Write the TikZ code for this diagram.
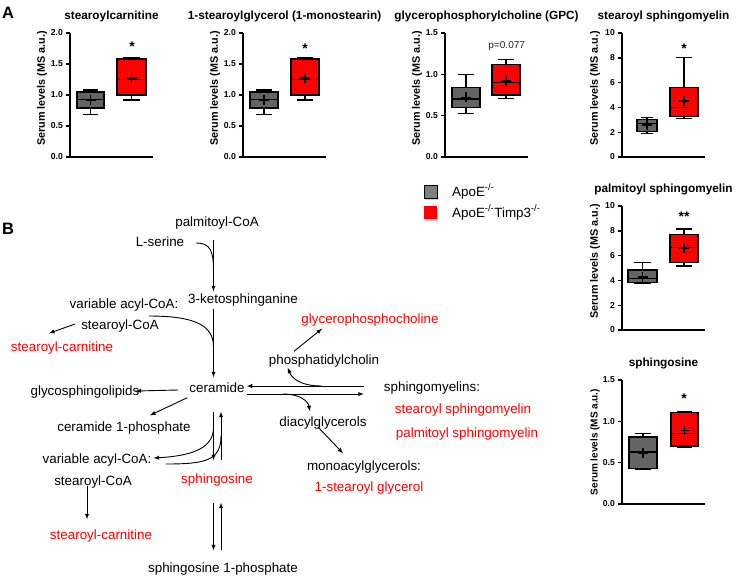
\documentclass[tikz,border=0pt]{standalone}
\usepackage{fontspec}
\setmainfont{Liberation Sans}
\usetikzlibrary{calc,shadows}
\definecolor{boxgray}{RGB}{100,100,100}
\definecolor{leggray}{RGB}{128,128,128}
\tikzset{
	metab/.style={font=\fontsize{13.4}{15}\selectfont, inner sep=2pt, text height=10pt, text depth=3pt},
	hit/.style={metab, text=red},
	line/.style={line width=0.9pt},
	arr/.style={line, -latex},
	bxline/.style={line width=1.3pt},
	axline/.style={line width=1.4pt},
	tick/.style={font=\fontsize{8.6}{9}\selectfont\bfseries, anchor=east, inner sep=0pt},
	ctitle/.style={font=\fontsize{11.8}{13}\selectfont\bfseries},
	ylab/.style={font=\fontsize{10.8}{12}\selectfont\bfseries, rotate=90},
	sig/.style={font=\fontsize{14}{15}\selectfont\bfseries, anchor=north, inner sep=0pt},
	panel/.style={font=\fontsize{16.5}{18}\selectfont\bfseries},
	legbox/.style={minimum size=13pt, inner sep=0pt, drop shadow={shadow xshift=1pt, shadow yshift=-1.5pt, opacity=0.35}},
	legtxt/.style={font=\fontsize{13.4}{15}\selectfont, anchor=west, inner sep=0pt}
}
% left, right, min, q1, median, q3, max, mean, fill
\newcommand{\bplot}[9]{%
	\pgfmathsetmacro{\bmid}{(#1+#2)/2}
	\pgfmathsetmacro{\bcap}{0.28*(#2-#1)}
	\draw[bxline] (\bmid,#3) -- (\bmid,#4) (\bmid,#6) -- (\bmid,#7);
	\draw[bxline] (\bmid-\bcap,#3) -- (\bmid+\bcap,#3) (\bmid-\bcap,#7) -- (\bmid+\bcap,#7);
	\draw[bxline, fill=#9] (#1,#4) rectangle (#2,#6);
	\draw[bxline] (#1,#5) -- (#2,#5);
	\draw[line width=1.8pt] (\bmid-5,#8) -- (\bmid+5,#8) ([yshift=-5pt]\bmid,#8) -- ([yshift=5pt]\bmid,#8);
}
\begin{document}
\begin{tikzpicture}[x=1pt,y=-1pt]
	\useasboundingbox (0,0) rectangle (743,578);
	\node[panel] (pa) at (8,13) {A};
	\node[panel] (pb) at (8,229) {B};

	\begin{scope}[shift={(70,157)}, y={(0pt,62pt)}]
		\draw[axline] (0,2) -- (0,0) -- (83,0);
		\foreach \v in {0.0,0.5,1.0,1.5,2.0} {
			\draw[axline] (-4,\v) -- (0,\v);
			\node[tick] at (-7,\v) {\v};
		}
		\node[ctitle] (t1) at ([yshift=16.5pt]41.5,2) {stearoylcarnitine};
		\node[ylab] (y1) at ([yshift=6.5pt]-28,1) {Serum levels (MS a.u.)};
		\bplot{7}{34}{0.69}{0.79}{0.93}{1.05}{1.08}{0.92}{boxgray}
		\bplot{47}{76}{0.92}{1.0}{1.25}{1.58}{1.6}{1.27}{red}
		\node[sig] (s1) at (62,1.86) {*};
	\end{scope}

	\begin{scope}[shift={(243,157)}, y={(0pt,62pt)}]
		\draw[axline] (0,2) -- (0,0) -- (83,0);
		\foreach \v in {0.0,0.5,1.0,1.5,2.0} {
			\draw[axline] (-4,\v) -- (0,\v);
			\node[tick] at (-7,\v) {\v};
		}
		\node[ctitle] (t2) at ([yshift=16.5pt]41.5,2) {1-stearoylglycerol (1-monostearin)};
		\node[ylab] (y2) at ([yshift=6.5pt]-28,1) {Serum levels (MS a.u.)};
		\bplot{7}{35}{0.69}{0.79}{0.93}{1.05}{1.08}{0.92}{boxgray}
		\bplot{48}{76}{0.92}{1.0}{1.25}{1.58}{1.6}{1.27}{red}
		\node[sig] (s2) at (62,1.83) {*};
	\end{scope}

	\begin{scope}[shift={(445,157)}, y={(0pt,82.67pt)}]
		\draw[axline] (0,1.5) -- (0,0) -- (83,0);
		\foreach \v in {0.0,0.5,1.0,1.5} {
			\draw[axline] (-4,\v) -- (0,\v);
			\node[tick] at (-7,\v) {\v};
		}
		\node[ctitle] (t3) at ([yshift=16.5pt]41.5,1.5) {glycerophosphorylcholine (GPC)};
		\node[ylab] (y3) at ([yshift=6.5pt]-28,0.75) {Serum levels (MS a.u.)};
		\bplot{7}{35}{0.53}{0.6}{0.7}{0.84}{1.0}{0.72}{boxgray}
		\bplot{47}{75}{0.71}{0.75}{0.9}{1.12}{1.18}{0.92}{red}
		\node[font=\fontsize{10.1}{11}\selectfont, text=black!85] (p3) at (61.7,1.34) {p=0.077};
	\end{scope}

	\begin{scope}[shift={(622,157)}, y={(0pt,12.4pt)}]
		\draw[axline] (0,10) -- (0,0) -- (83,0);
		\foreach \v in {0,2,...,10} {
			\draw[axline] (-4,\v) -- (0,\v);
			\node[tick] at (-7,\v) {\v};
		}
		\node[ctitle] (t4) at ([yshift=16.5pt]41.5,10) {stearoyl sphingomyelin};
		\node[ylab] (y4) at ([yshift=6.5pt]-27,5) {Serum levels (MS a.u.)};
		\bplot{15}{35}{1.9}{2.05}{2.7}{3.05}{3.2}{2.6}{boxgray}
		\bplot{48}{76}{3.1}{3.25}{4.0}{5.6}{8.0}{4.5}{red}
		\node[sig] (s4) at (62,9.1) {*};
	\end{scope}

	\begin{scope}[shift={(622,330)}, y={(0pt,12.4pt)}]
		\draw[axline] (0,10) -- (0,0) -- (83,0);
		\foreach \v in {0,2,...,10} {
			\draw[axline] (-4,\v) -- (0,\v);
			\node[tick] at (-7,\v) {\v};
		}
		\node[ctitle] (t5) at ([yshift=16.5pt]41.5,10) {palmitoyl sphingomyelin};
		\node[ylab] (y5) at ([yshift=6.5pt]-27,5) {Serum levels (MS a.u.)};
		\bplot{6}{35}{3.75}{3.85}{4.15}{4.85}{5.45}{4.3}{boxgray}
		\bplot{48}{76}{5.15}{5.45}{6.65}{7.7}{8.15}{6.6}{red}
		\node[sig] (s5) at (62,9.54) {**};
	\end{scope}

	\begin{scope}[shift={(622,504)}, y={(0pt,82.67pt)}]
		\draw[axline] (0,1.5) -- (0,0) -- (83,0);
		\foreach \v in {0.0,0.5,1.0,1.5} {
			\draw[axline] (-4,\v) -- (0,\v);
			\node[tick] at (-7,\v) {\v};
		}
		\node[ctitle] (t6) at ([yshift=16.5pt]41.5,1.5) {sphingosine};
		\node[ylab, font=\fontsize{10}{11}\selectfont\bfseries] (y6) at (-27,0.75) {Serum levels (MS a.u.)};
		\bplot{7}{35}{0.42}{0.43}{0.63}{0.81}{0.85}{0.62}{boxgray}
		\bplot{49}{76}{0.69}{0.7}{0.85}{1.11}{1.12}{0.89}{red}
		\node[sig] (s6) at (62,1.34) {*};
	\end{scope}

	\node[legbox, fill=leggray, draw=black, line width=0.6pt] (lg1) at (430.5,191.5) {};
	\node[legbox, fill=red] (lg2) at (430.5,212.5) {};
	\node[legtxt] (lt1) at (452,191.5) {ApoE\textsuperscript{-/-}};
	\node[legtxt] (lt2) at (452,212.5) {ApoE\textsuperscript{-/-}Timp3\textsuperscript{-/-}};

	\node[metab] (palm) at (217,223) {palmitoyl-CoA};
	\node[metab] (ser) at (160,243) {L-serine};
	\node[metab] (keto) at (243,300) {3-ketosphinganine};
	\node[metab] (vac1) at (124,305) {variable acyl-CoA:};
	\node[metab] (sco1) at (120,326) {stearoyl-CoA};
	\node[hit] (scar1) at (62,348) {stearoyl-carnitine};
	\node[hit] (gpc) at (370,320) {glycerophosphocholine};
	\node[metab] (pc) at (324,361) {phosphatidylcholin};
	\node[metab] (cer) at (217,389) {ceramide};
	\node[metab] (smy) at (432,388) {sphingomyelins:};
	\node[hit] (ssm) at (463,410) {stearoyl sphingomyelin};
	\node[hit] (psm) at (467,434) {palmitoyl sphingomyelin};
	\node[metab] (glyco) at (85,392) {glycosphingolipids};
	\node[metab] (c1p) at (124,428) {ceramide 1-phosphate};
	\node[metab] (dag) at (323,423) {diacylglycerols};
	\node[metab] (vac2) at (97,460) {variable acyl-CoA:};
	\node[metab] (mag) at (364,467) {monoacylglycerols:};
	\node[hit] (sph) at (217,480) {sphingosine};
	\node[metab] (sco2) at (93,482) {stearoyl-CoA};
	\node[hit] (sgly) at (369,488) {1-stearoyl glycerol};
	\node[hit] (scar2) at (101,536) {stearoyl-carnitine};
	\node[metab] (s1p) at (223,569) {sphingosine 1-phosphate};
	\coordinate (ax) at (213.5,0);
	\coordinate (bx) at (221,0);

	\draw[arr] ($(palm.south -| ax)+(0,8)$) -- (keto.north -| ax);
	\draw[line] ($(ser.east)+(10,0)$) .. controls +(14,0) and +(0,-18) .. ($(palm.south -| ax)+(0,38)$);
	\draw[arr] (keto.south -| ax) -- ($(cer.north -| ax)+(0,-3)$);
	\draw[line] ($(vac1.east)+(-32,11)$) .. controls +(45,0) and +(0,-22) .. ($(keto.south -| ax)+(0,38)$);
	\draw[arr] ($(sco1.west)+(-4,-2)$) -- ($(scar1.north)+(-13,-6)$);
	\draw[arr] ($(cer.west)+(-9,1)$) -- ($(glyco.east)+(-6,-1)$);
	\draw[arr] (cer.south west) -- ($(c1p.north)+(26,-4)$);
	\draw[arr] ($(cer.south -| ax)+(0,14)$) -- ($(sph.north -| ax)+(0,-11)$);
	\draw[arr] ($(sph.north -| bx)+(0,-11)$) -- ($(cer.south -| bx)+(0,14)$);
	\draw[arr] ($(cer.south -| ax)+(0,30)$) .. controls +(0,22) and +(35,-2) .. ($(vac2.east)+(0,-2)$);
	\draw[line] ($(vac2.east)+(12,4)$) .. controls +(40,0) and +(0,25) .. ($(cer.south -| bx)+(0,38)$);
	\draw[arr] ($(sph.south -| ax)+(0,14)$) -- ($(s1p.north -| ax)+(0,-10)$);
	\draw[arr] ($(s1p.north -| bx)+(0,-10)$) -- ($(sph.south -| bx)+(0,14)$);
	\draw[arr] ($(sco2.south)+(-6,-5)$) -- ($(scar2.north)+(-14,-8)$);
	\draw[arr] ($(smy.west)+(-18,-2)$) -- ($(cer.east)+(0,-3)$);
	\draw[arr] ($(cer.east)+(0,5)$) -- ($(smy.west)+(-18,6)$);
	\draw[arr] ($(cer.east)+(75,-3)$) .. controls +(-22,0) and +(4,10) .. ($(pc.south west)+(21,-2)$);
	\draw[arr] ($(cer.east)+(36,5)$) .. controls +(18,0) and +(-2,-10) .. ($(dag.north)+(-13,-3)$);
	\draw[arr] ($(pc.north)+(-30,-1)$) -- ($(gpc.south)+(-48,0)$);
	\draw[arr] ($(dag.center)+(-5,4)$) -- ($(mag.north)+(-21,-5)$);
\end{tikzpicture}
\end{document}
